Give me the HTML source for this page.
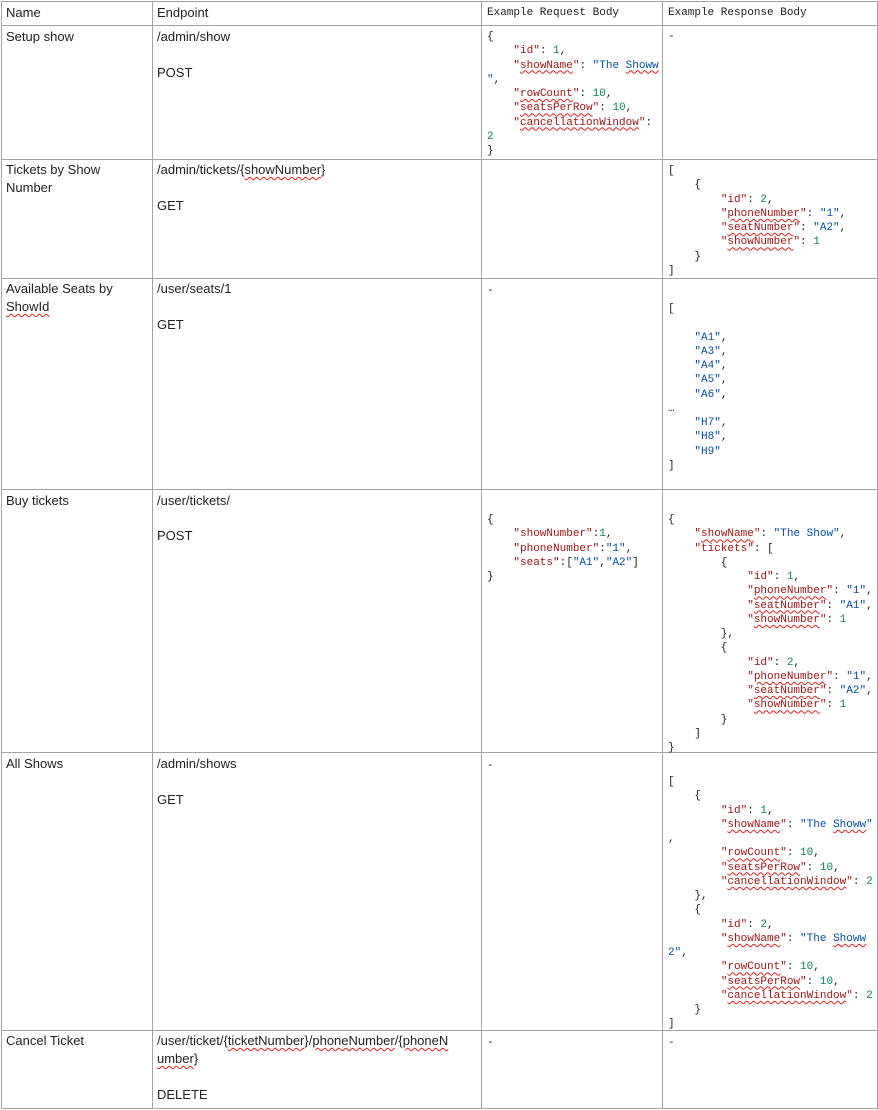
<!DOCTYPE html>
<html><head><meta charset="utf-8"><style>
body{margin:0;width:878px;height:1110px;background:#fff;position:relative;overflow:hidden}
.h{position:absolute;height:1px;background:#a3a3a3;left:1px;width:877px}
.v{position:absolute;width:1px;background:#a3a3a3;top:1px;height:1108px}
.t{position:absolute;font-family:"Liberation Sans",sans-serif;font-size:13px;color:#222;line-height:18px;white-space:nowrap}
pre{position:absolute;margin:0;font-family:"Liberation Mono",monospace;font-size:11px;line-height:14.25px;color:#222}
.k{color:#a31515}.s{color:#0451a5}.n{color:#098658}
.w{text-decoration:underline wavy #e02020;text-decoration-thickness:1px;text-underline-offset:2px}
</style></head><body>
<div class="h" style="top:1px"></div><div class="h" style="top:25px"></div><div class="h" style="top:159px"></div><div class="h" style="top:278px"></div><div class="h" style="top:489px"></div><div class="h" style="top:752px"></div><div class="h" style="top:1030px"></div><div class="h" style="top:1108px"></div>
<div class="v" style="left:1px"></div><div class="v" style="left:152px"></div><div class="v" style="left:481px"></div><div class="v" style="left:662px"></div><div class="v" style="left:877px"></div>

<div class="t" style="left:6px;top:4px">Name</div>
<div class="t" style="left:157px;top:4px">Endpoint</div>
<pre style="left:487px;top:6px">Example Request Body</pre>
<pre style="left:668px;top:6px">Example Response Body</pre>

<div class="t" style="left:6px;top:28px">Setup show</div>
<div class="t" style="left:157px;top:28px">/admin/show</div>
<div class="t" style="left:157px;top:64px">POST</div>
<pre style="left:487px;top:30px">{
    <span class="k">"id"</span>: <span class="n">1</span>,
    <span class="k">"<span class="w">showName</span>"</span>: <span class="s">"The <span class="w">Showw</span></span>
<span class="s">"</span>,
    <span class="k">"<span class="w">rowCount</span>"</span>: <span class="n">10</span>,
    <span class="k">"<span class="w">seatsPerRow</span>"</span>: <span class="n">10</span>,
    <span class="k">"<span class="w">cancellationWindow</span>"</span>:
<span class="n">2</span>
}</pre>
<pre style="left:668px;top:30px">-</pre>

<div class="t" style="left:6px;top:161px">Tickets by Show<br>Number</div>
<div class="t" style="left:157px;top:161px">/admin/tickets/{<span class="w">showNumber</span>}</div>
<div class="t" style="left:157px;top:197px">GET</div>
<pre style="left:668px;top:164px">[
    {
        <span class="k">"id"</span>: <span class="n">2</span>,
        <span class="k">"<span class="w">phoneNumber</span>"</span>: <span class="s">"1"</span>,
        <span class="k">"<span class="w">seatNumber</span>"</span>: <span class="s">"A2"</span>,
        <span class="k">"<span class="w">showNumber</span>"</span>: <span class="n">1</span>
    }
]</pre>

<div class="t" style="left:6px;top:280px">Available Seats by<br><span class="w">ShowId</span></div>
<div class="t" style="left:157px;top:280px">/user/seats/1</div>
<div class="t" style="left:157px;top:316px">GET</div>
<pre style="left:487px;top:284px">-</pre>
<pre style="left:668px;top:302px">[

    <span class="s">"A1"</span>,
    <span class="s">"A3"</span>,
    <span class="s">"A4"</span>,
    <span class="s">"A5"</span>,
    <span class="s">"A6"</span>,
…
    <span class="s">"H7"</span>,
    <span class="s">"H8"</span>,
    <span class="s">"H9"</span>
]</pre>

<div class="t" style="left:6px;top:492px">Buy tickets</div>
<div class="t" style="left:157px;top:492px">/user/tickets/</div>
<div class="t" style="left:157px;top:527px">POST</div>
<pre style="left:487px;top:513px">{
    <span class="k">"showNumber"</span>:<span class="n">1</span>,
    <span class="k">"phoneNumber"</span>:<span class="s">"1"</span>,
    <span class="k">"seats"</span>:[<span class="s">"A1"</span>,<span class="s">"A2"</span>]
}</pre>
<pre style="left:668px;top:513px">{
    <span class="k">"<span class="w">showName</span>"</span>: <span class="s">"The Show"</span>,
    <span class="k">"tickets"</span>: [
        {
            <span class="k">"id"</span>: <span class="n">1</span>,
            <span class="k">"<span class="w">phoneNumber</span>"</span>: <span class="s">"1"</span>,
            <span class="k">"<span class="w">seatNumber</span>"</span>: <span class="s">"A1"</span>,
            <span class="k">"<span class="w">showNumber</span>"</span>: <span class="n">1</span>
        },
        {
            <span class="k">"id"</span>: <span class="n">2</span>,
            <span class="k">"<span class="w">phoneNumber</span>"</span>: <span class="s">"1"</span>,
            <span class="k">"<span class="w">seatNumber</span>"</span>: <span class="s">"A2"</span>,
            <span class="k">"<span class="w">showNumber</span>"</span>: <span class="n">1</span>
        }
    ]
}</pre>

<div class="t" style="left:6px;top:755px">All Shows</div>
<div class="t" style="left:157px;top:755px">/admin/shows</div>
<div class="t" style="left:157px;top:791px">GET</div>
<pre style="left:487px;top:759px">-</pre>
<pre style="left:668px;top:775px">[
    {
        <span class="k">"id"</span>: <span class="n">1</span>,
        <span class="k">"<span class="w">showName</span>"</span>: <span class="s">"The <span class="w">Showw</span>"</span>
,
        <span class="k">"<span class="w">rowCount</span>"</span>: <span class="n">10</span>,
        <span class="k">"<span class="w">seatsPerRow</span>"</span>: <span class="n">10</span>,
        <span class="k">"<span class="w">cancellationWindow</span>"</span>: <span class="n">2</span>
    },
    {
        <span class="k">"id"</span>: <span class="n">2</span>,
        <span class="k">"<span class="w">showName</span>"</span>: <span class="s">"The <span class="w">Showw</span></span>
<span class="s">2"</span>,
        <span class="k">"<span class="w">rowCount</span>"</span>: <span class="n">10</span>,
        <span class="k">"<span class="w">seatsPerRow</span>"</span>: <span class="n">10</span>,
        <span class="k">"<span class="w">cancellationWindow</span>"</span>: <span class="n">2</span>
    }
]</pre>

<div class="t" style="left:6px;top:1032px">Cancel Ticket</div>
<div class="t" style="left:157px;top:1032px">/user/ticket/{<span class="w">ticketNumber</span>}/<span class="w">phoneNumber</span>/{<span class="w">phoneN</span><br><span class="w">umber</span>}</div>
<div class="t" style="left:157px;top:1086px">DELETE</div>
<pre style="left:487px;top:1036px">-</pre>
<pre style="left:668px;top:1036px">-</pre>
</body></html>
